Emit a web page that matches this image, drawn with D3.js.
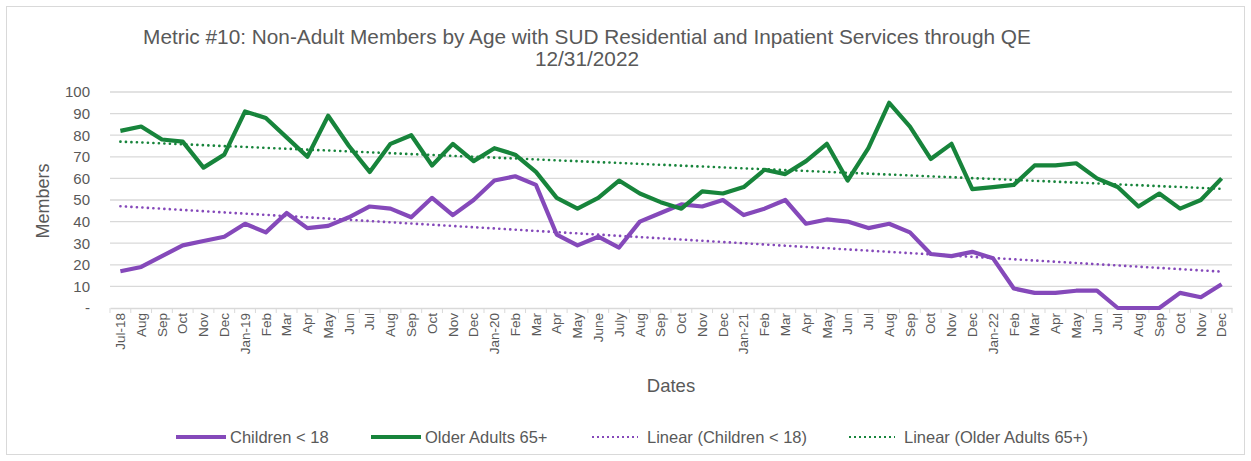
<!DOCTYPE html>
<html>
<head>
<meta charset="utf-8">
<script src="https://cdn.jsdelivr.net/npm/d3@7"></script>
<style>
  body { margin: 0; background: #fff; }
  text { font-family: "Liberation Sans", Arial, sans-serif; fill: #595959; }
</style>
</head>
<body>
<svg id="chart" width="1251" height="461"></svg>
<script>
var months = ["Jul-18","Aug","Sep","Oct","Nov","Dec",
  "Jan-19","Feb","Mar","Apr","May","Jun","Jul","Aug","Sep","Oct","Nov","Dec",
  "Jan-20","Feb","Mar","Apr","May","June","July","Aug","Sep","Oct","Nov","Dec",
  "Jan-21","Feb","Mar","Apr","May","Jun","Jul","Aug","Sep","Oct","Nov","Dec",
  "Jan-22","Feb","Mar","Apr","May","Jun","Jul","Aug","Sep","Oct","Nov","Dec"]

var children = [17,19,24,29,31,33, 39,35,44,37,38,42,47,46,42,51,43,50,
  59,61,57,34,29,33,28,40,44,48,47,50, 43,46,50,39,41,40,37,39,35,25,24,26,
  23,9,7,7,8,8,0,0,0,7,5,11]

var olderAdults = [82,84,78,77,65,71, 91,88,79,70,89,75,63,76,80,66,76,68,
  74,71,63,51,46,51,59,53,49,46,54,53, 56,64,62,68,76,59,74,95,84,69,76,55,
  56,57,66,66,67,60,56,47,53,46,50,60]

var yTicks = [0,10,20,30,40,50,60,70,80,90,100]

var purple = "#8549ba", green = "#17843b"

var svg = d3.select("#chart")

svg.append("rect")
  .attr("x", 6.5).attr("y", 6.5)
  .attr("width", 1238).attr("height", 448)
  .attr("fill", "#fff").attr("stroke", "#d9d9d9")

var plotL = 110, plotR = 1232, plotT = 92, plotB = 308

// x uses index so repeated month names stay distinct
var x = d3.scaleBand().domain(d3.range(months.length)).range([plotL, plotR])
var y = d3.scaleLinear().domain([0, 100]).range([plotB, plotT])
var cx = i => x(i) + x.bandwidth() / 2

// gridlines
svg.append("g")
  .selectAll("line")
  .data(yTicks.filter(d => d > 0))
  .join("line")
  .attr("x1", plotL).attr("x2", plotR)
  .attr("y1", d => y(d)).attr("y2", d => y(d))
  .attr("stroke", "#d9d9d9").attr("stroke-width", 1.3)

// y axis labels
var yAxis = svg.append("g")
  .attr("transform", `translate(${plotL},0)`)
  .call(d3.axisLeft(y).tickValues(yTicks).tickSize(0).tickPadding(20)
    .tickFormat(d => d === 0 ? "-" : d))
yAxis.select(".domain").remove()
yAxis.selectAll("text").style("font-size", "15px").attr("fill", "#595959")

// x axis
var xAxis = svg.append("g")
  .attr("transform", `translate(0,${plotB})`)
  .call(d3.axisBottom(x).tickSize(0).tickFormat(i => months[i]))
xAxis.select(".domain").attr("stroke", "#d9d9d9").attr("stroke-width", 1.3)
xAxis.selectAll("text")
  .style("font-size", "13.5px")
  .attr("fill", "#595959")
  .attr("text-anchor", "end")
  .attr("transform", "rotate(-90)")
  .attr("x", -5).attr("y", 0).attr("dy", "0.35em")

// tick marks between categories
svg.append("g")
  .selectAll("line")
  .data(d3.range(months.length + 1))
  .join("line")
  .attr("x1", i => plotL + i * x.step()).attr("x2", i => plotL + i * x.step())
  .attr("y1", plotB).attr("y2", plotB + 5)
  .attr("stroke", "#d9d9d9").attr("stroke-width", 1)

// linear trendlines (least squares, like excel)
function trend(vals) {
  var n = vals.length, xs = d3.range(n)
  var mx = d3.mean(xs), my = d3.mean(vals)
  var b = d3.sum(xs, i => (i - mx) * (vals[i] - my)) / d3.sum(xs, i => (i - mx) * (i - mx))
  var a = my - b * mx
  return [[0, a], [n - 1, a + b * (n - 1)]]
}

var seg = d3.line().x(d => cx(d[0])).y(d => y(d[1]))

;[[children, purple], [olderAdults, green]].forEach(([vals, col]) => {
  svg.append("path")
    .attr("d", seg(trend(vals)))
    .attr("fill", "none").attr("stroke", col)
    .attr("stroke-width", 2.6)
    .attr("stroke-linecap", "round")
    .attr("stroke-dasharray", "0.1 5.4")
})

var line = d3.line().x((d, i) => cx(i)).y(d => y(d))

svg.append("path").datum(children)
  .attr("d", line).attr("fill", "none")
  .attr("stroke", purple).attr("stroke-width", 4.2)
  .attr("stroke-linejoin", "round")

svg.append("path").datum(olderAdults)
  .attr("d", line).attr("fill", "none")
  .attr("stroke", green).attr("stroke-width", 4.2)
  .attr("stroke-linejoin", "round")

// title
var title = svg.append("text")
  .attr("text-anchor", "middle")
  .style("font-size", "20.8px")
title.append("tspan").attr("x", 587).attr("y", 44)
  .text("Metric #10: Non-Adult Members by Age with SUD Residential and Inpatient Services through QE")
title.append("tspan").attr("x", 587).attr("y", 66).text("12/31/2022")

// axis titles
svg.append("text")
  .attr("transform", "translate(49,201) rotate(-90)")
  .attr("text-anchor", "middle")
  .style("font-size", "18px")
  .text("Members")

svg.append("text")
  .attr("x", 671).attr("y", 392)
  .attr("text-anchor", "middle")
  .style("font-size", "18.5px")
  .text("Dates")

// legend
var legend = [
  {label: "Children < 18", color: purple, x: 176, dotted: false},
  {label: "Older Adults 65+", color: green, x: 371, dotted: false},
  {label: "Linear (Children < 18)", color: purple, x: 592, dotted: true},
  {label: "Linear (Older Adults 65+)", color: green, x: 849, dotted: true}
]

var lg = svg.append("g").selectAll("g").data(legend).join("g")
  .attr("transform", d => `translate(${d.x},437)`)

lg.append("line")
  .attr("x1", 0).attr("x2", d => d.dotted ? 46 : 50)
  .attr("y1", 0).attr("y2", 0)
  .attr("stroke", d => d.color)
  .attr("stroke-width", d => d.dotted ? 2 : 4.2)
  .attr("stroke-dasharray", d => d.dotted ? "2 3" : null)

lg.append("text")
  .attr("x", d => d.dotted ? 55 : 54)
  .attr("y", 0).attr("dy", "0.35em")
  .style("font-size", "16.5px")
  .text(d => d.label)
</script>
</body>
</html>
